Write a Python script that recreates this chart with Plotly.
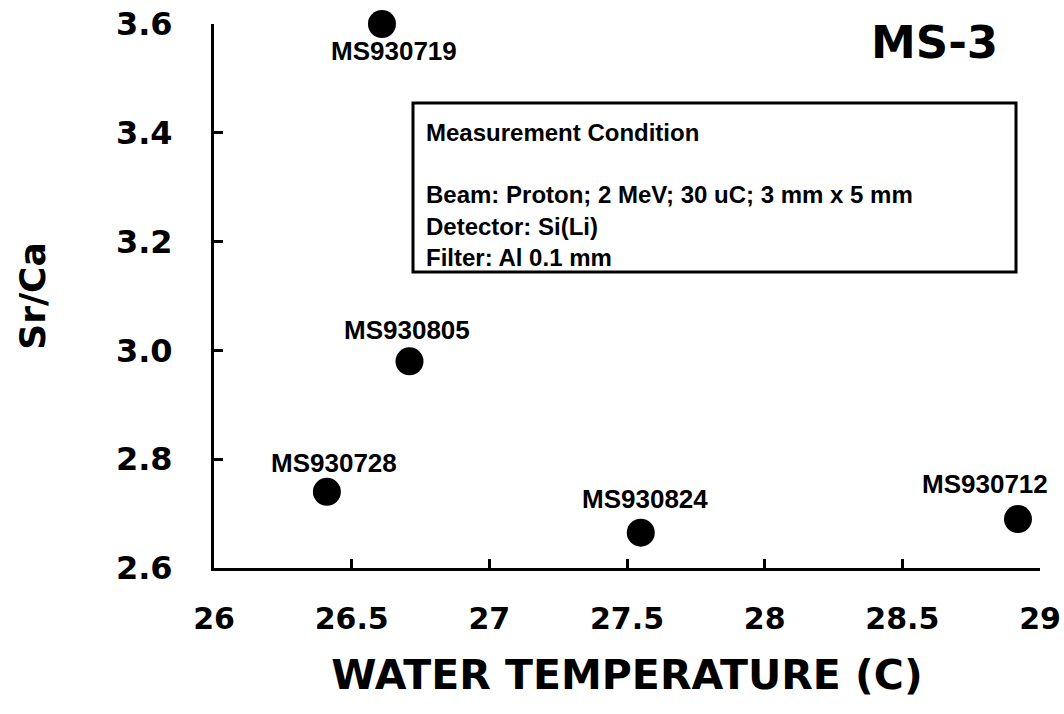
import plotly.graph_objects as go

# ---- data ----
sample_names = ["MS930719", "MS930805", "MS930728", "MS930824", "MS930712"]
water_temp = [26.61, 26.71, 26.41, 27.55, 28.92]
sr_ca = [3.60, 2.98, 2.74, 2.665, 2.69]

x_tick_vals = [26, 26.5, 27, 27.5, 28, 28.5, 29]
x_tick_text = ["26", "26.5", "27", "27.5", "28", "28.5", "29"]
y_tick_vals = [2.6, 2.8, 3.0, 3.2, 3.4, 3.6]
y_tick_text = ["2.6", "2.8", "3.0", "3.2", "3.4", "3.6"]

box_lines = ["Measurement Condition", "",
             "Beam: Proton; 2 MeV; 30 uC; 3 mm x 5 mm",
             "Detector: Si(Li)",
             "Filter: Al 0.1 mm"]

# ---- layout helpers (pixels) ----
W, H = 1064, 714
L, R, T, B = 214, 1040, 24, 568

def px(xp):
    return (xp - L) / (R - L)

def py(yp):
    return (B - yp) / (B - T)

# label offsets (x shift, y shift in px) for each point
label_shift = [(12, -27), (-2, 31), (7, 29), (4, 34), (-33, 35)]

fig = go.Figure()
fig.add_trace(go.Scatter(
    x=water_temp, y=sr_ca, mode="markers",
    marker=dict(size=28, color="black"),
    cliponaxis=False, showlegend=False, hoverinfo="x+y"))

x_tick_font = dict(family="DejaVu Sans", size=30, color="black", weight="bold")
y_tick_font = dict(family="DejaVu Sans", size=32, color="black", weight="bold")

fig.update_layout(
    width=W, height=H,
    margin=dict(l=L, r=W - R, t=T, b=H - B, pad=0, autoexpand=False),
    paper_bgcolor="white", plot_bgcolor="white",
    xaxis=dict(range=[26, 29], tickvals=x_tick_vals, ticktext=x_tick_text,
               automargin=False,
               showgrid=False, zeroline=False, showline=True, linecolor="black",
               linewidth=3, ticks="inside", ticklen=9, tickwidth=3, tickcolor="black",
               tickfont=x_tick_font, ticklabelstandoff=22,
               title=dict(text="WATER TEMPERATURE (C)", standoff=26,
                          font=dict(family="DejaVu Sans", size=41, color="black", weight="bold"))),
    yaxis=dict(range=[2.6, 3.6], tickvals=y_tick_vals, ticktext=y_tick_text,
               automargin=False,
               showgrid=False, zeroline=False, showline=True, linecolor="black",
               linewidth=3, ticks="inside", ticklen=9, tickwidth=3, tickcolor="black",
               tickfont=y_tick_font, ticklabelstandoff=32,
               title=dict(text="Sr/Ca", standoff=60,
                          font=dict(family="DejaVu Sans", size=36, color="black", weight="bold"))),
)

# point labels
for name, xv, yv, (dx, dy) in zip(sample_names, water_temp, sr_ca, label_shift):
    fig.add_annotation(x=xv, y=yv, text=name, showarrow=False,
                       xshift=dx, yshift=dy, xanchor="center", yanchor="middle",
                       font=dict(family="Liberation Sans", size=26, color="black", weight="bold"))

# MS-3 title
fig.add_annotation(xref="paper", yref="paper", x=px(934), y=py(43), text="MS-3",
                   showarrow=False, xanchor="center", yanchor="middle",
                   font=dict(family="DejaVu Sans", size=45, color="black", weight="bold"))

# measurement condition box
fig.add_shape(type="rect", xref="paper", yref="paper",
              x0=px(413), x1=px(1016), y0=py(272), y1=py(103),
              line=dict(color="black", width=3), fillcolor="white", layer="below")
fig.add_annotation(xref="paper", yref="paper", x=px(425), y=py(195),
                   text="<br>".join(box_lines), showarrow=False,
                   xanchor="left", yanchor="middle", align="left", borderpad=0,
                   font=dict(family="Liberation Sans", size=24, color="black", weight="bold"))

fig.write_html("out.html")
